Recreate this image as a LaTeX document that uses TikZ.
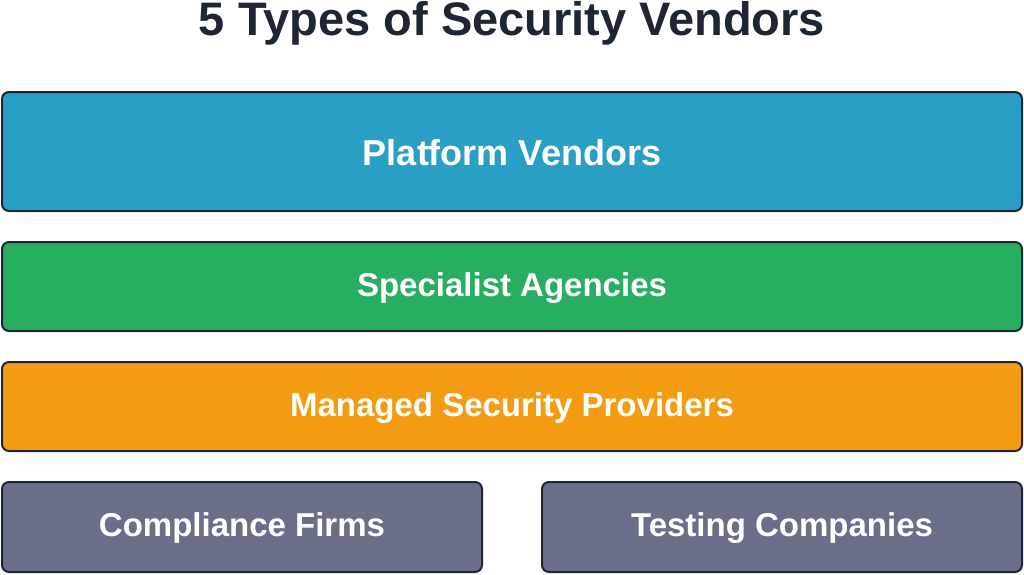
\documentclass[tikz,border=0pt]{standalone}
\usepackage{fontspec}
\setmainfont{Liberation Sans}
\definecolor{bblue}{HTML}{2A9FC6}
\definecolor{bgreen}{HTML}{27AE60}
\definecolor{borange}{HTML}{F39C12}
\definecolor{bgray}{HTML}{6B6E89}
\definecolor{dark}{HTML}{1E2533}
\begin{document}
\begin{tikzpicture}[x=1pt,y=-1pt,
  box/.style={draw=dark,line width=2pt,rounded corners=7pt},
  lbl/.style={text=white,font=\fontsize{33}{38}\selectfont\bfseries}]
\useasboundingbox (0,0) rectangle (1024,574);
\node[text=dark,font=\fontsize{47}{52}\selectfont\bfseries] (title) at (512,23) {5 Types of Security Vendors};
\draw[box,fill=bblue] (2,92) rectangle (1022,211);
\node[lbl,font=\fontsize{36}{40}\selectfont\bfseries] (p) at (512,153) {Platform Vendors};
\draw[box,fill=bgreen] (2,242) rectangle (1022,331);
\node[lbl] (s) at (512,288) {Specialist Agencies};
\draw[box,fill=borange] (2,362) rectangle (1022,451);
\node[lbl] (m) at (512,408) {Managed Security Providers};
\draw[box,fill=bgray] (2,482) rectangle (482,572);
\node[lbl] (c) at (242,528) {Compliance Firms};
\draw[box,fill=bgray] (542,482) rectangle (1022,572);
\node[lbl] (t) at (782,528) {Testing Companies};
\end{tikzpicture}
\end{document}
